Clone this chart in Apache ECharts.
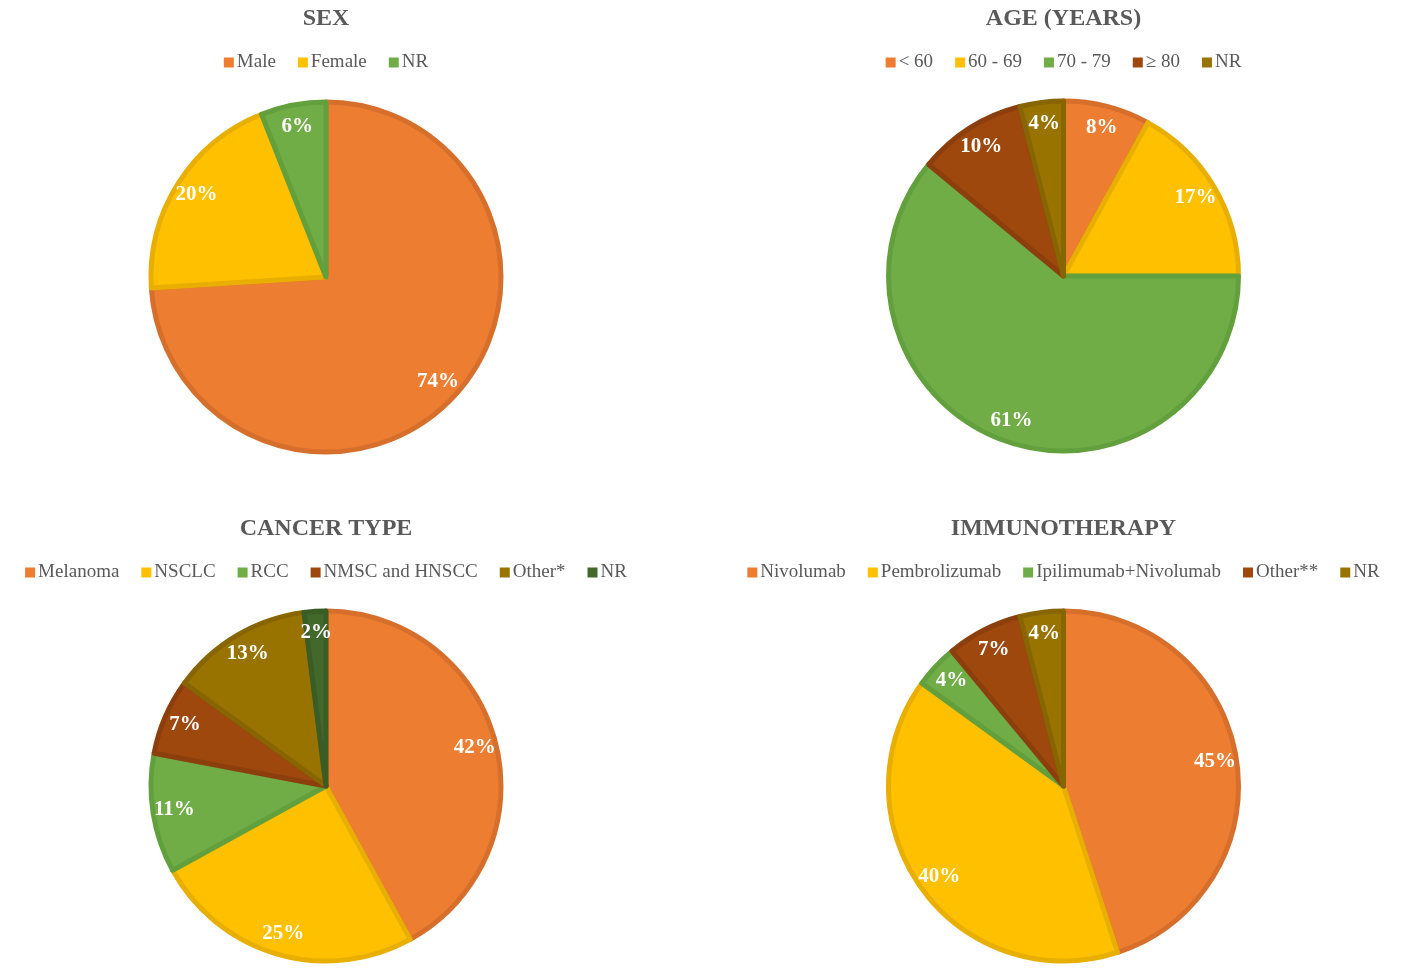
<!DOCTYPE html>
<html>
<head>
<meta charset="utf-8">
<script src="https://cdn.jsdelivr.net/npm/echarts@6/dist/echarts.min.js"></script>
<style>
  html, body { margin:0; padding:0; background:#fff; width:1418px; height:973px; overflow:hidden; }
  .c { position:absolute; }
</style>
</head>
<body>
<div id="c1" class="c" style="left:0;top:0;width:652px;height:510px;"></div>
<div id="c2" class="c" style="left:709px;top:0;width:709px;height:510px;"></div>
<div id="c3" class="c" style="left:0;top:510px;width:652px;height:463px;"></div>
<div id="c4" class="c" style="left:709px;top:510px;width:709px;height:463px;"></div>
<script>
const sexNames = ['Male', 'Female', 'NR'];
const sexValues = [74, 20, 6];
const ageNames = ['< 60', '60 - 69', '70 - 79', '≥ 80', 'NR'];
const ageValues = [8, 17, 61, 10, 4];
const cancerNames = ['Melanoma', 'NSCLC', 'RCC', 'NMSC and HNSCC', 'Other*', 'NR'];
const cancerValues = [42, 25, 11, 7, 13, 2];
const immunoNames = ['Nivolumab', 'Pembrolizumab', 'Ipilimumab+Nivolumab', 'Other**', 'NR'];
const immunoValues = [45, 40, 4, 7, 4];

const palette = ['#ED7D31', '#FFC000', '#70AD47', '#9E480E', '#997300', '#43682B'];
const borders = ['#D76F2C', '#E8AE00', '#62A03E', '#8C3F0C', '#876500', '#3A5C25'];
const FONT = '"Liberation Serif", "Times New Roman", serif';

function makeOption(title, names, values, cy) {
  const R = 178;
  return {
    animation: false,
    title: {
      text: title, left: 'center', top: 2,
      textStyle: { fontFamily: FONT, fontSize: 24, fontWeight: 'bold', color: '#595959' }
    },
    legend: {
      left: 'center', top: 48, icon: 'rect', itemWidth: 10, itemHeight: 10, itemGap: 22,
      selectedMode: false,
      itemStyle: { borderWidth: 0 },
      textStyle: { fontFamily: FONT, fontSize: 19, color: '#595959', padding: [0, 0, 0, -2] },
      data: names.map((n, i) => ({ name: n, itemStyle: { color: palette[i], borderWidth: 0 } }))
    },
    series: [
      {
        type: 'pie', center: ['50%', cy], radius: R - 3, startAngle: 90, clockwise: true,
        silent: true, label: { show: false }, labelLine: { show: false },
        data: names.map((n, i) => ({
          name: n, value: values[i],
          itemStyle: { color: palette[i], borderColor: borders[i], borderWidth: 5 }
        }))
      },
      {
        type: 'pie', center: ['50%', cy], radius: [Math.round(R * 0.69), R], startAngle: 90, clockwise: true,
        silent: true, legendHoverLink: false,
        label: {
          show: true, position: 'inside', formatter: '{c}%',
          fontFamily: FONT, fontSize: 21, fontWeight: 'bold', color: '#ffffff'
        },
        labelLine: { show: false },
        data: names.map((n, i) => ({
          name: n, value: values[i],
          itemStyle: { color: 'rgba(0,0,0,0)', borderWidth: 0 }
        }))
      }
    ]
  };
}

const specs = [
  ['c1', 'SEX', sexNames, sexValues, 277],
  ['c2', 'AGE (YEARS)', ageNames, ageValues, 276],
  ['c3', 'CANCER TYPE', cancerNames, cancerValues, 276],
  ['c4', 'IMMUNOTHERAPY', immunoNames, immunoValues, 276]
];
specs.forEach(s => {
  const chart = echarts.init(document.getElementById(s[0]), null, { renderer: 'canvas' });
  chart.setOption(makeOption(s[1], s[2], s[3], s[4]));
});
</script>
</body>
</html>
